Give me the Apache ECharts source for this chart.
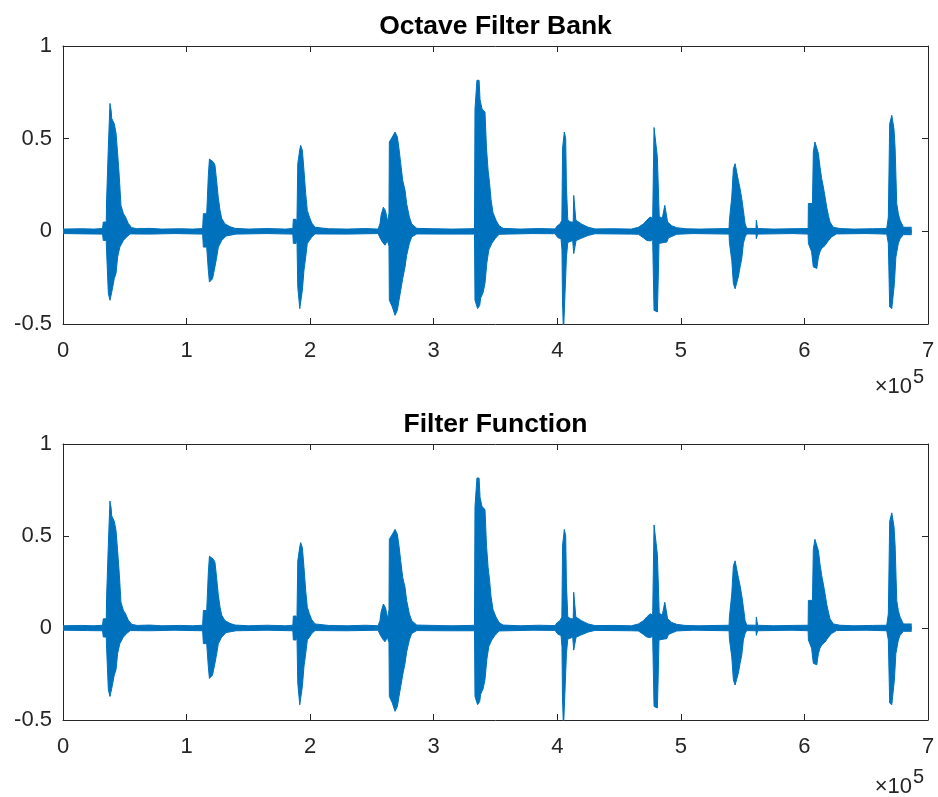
<!DOCTYPE html>
<html>
<head>
<meta charset="utf-8">
<script src="https://cdn.jsdelivr.net/npm/echarts/dist/echarts.min.js"></script>
<style>
html,body{margin:0;padding:0;background:#fff;}
#chart{width:938px;height:797px;}
</style>
</head>
<body>
<div id="chart"></div>
<script>
// Axis settings (samples, amplitude)
var xTicks = [0, 100000, 200000, 300000, 400000, 500000, 600000, 700000];
var yTicks = [-0.5, 0, 0.5, 1];
var titles = ['Octave Filter Bank', 'Filter Function'];

// Upper envelope of the waveform: [sample, amplitude]
var upperEnv = [
[0,0.012],[15000,0.014],[25000,0.012],[32000,0.015],
[32600,0.05],[35000,0.05],[35300,0.17],[36500,0.17],[36700,0.455],[37600,0.455],[38000,0.69],[39000,0.65],[39400,0.61],[41500,0.58],[42900,0.53],[44200,0.42],[45600,0.29],[46900,0.14],[48800,0.097],[50700,0.076],[52800,0.043],[55600,0.02],
[60000,0.014],[70000,0.016],[80000,0.012],[95000,0.014],[105000,0.012],[113000,0.015],
[113600,0.095],[116300,0.095],[117600,0.30],[118500,0.39],[120000,0.38],[121700,0.374],[123000,0.356],[124400,0.266],[125700,0.178],[127100,0.113],[128400,0.07],[131100,0.04],[135200,0.025],[139200,0.016],
[150000,0.012],[165000,0.015],[180000,0.012],
[186000,0.015],[186400,0.065],[188600,0.065],[189300,0.04],[190000,0.365],[191600,0.44],[192300,0.464],[193700,0.437],[195000,0.33],[196400,0.203],[197700,0.113],[199400,0.077],[201300,0.045],[204000,0.022],
[215000,0.014],[230000,0.012],[245000,0.015],[255000,0.012],
[256500,0.04],[257500,0.09],[259300,0.13],[261000,0.11],[262800,0.05],[263800,0.1],[264100,0.482],[266500,0.509],[268700,0.536],[270600,0.509],[271900,0.446],[273300,0.365],[274900,0.275],[276800,0.221],[278100,0.149],[280300,0.077],[282200,0.04],[286300,0.016],
[300000,0.014],[315000,0.012],[330000,0.014],
[333000,0.015],[333400,0.66],[335000,0.815],[336700,0.815],[337500,0.71],[339100,0.66],[340700,0.65],[341500,0.644],[342700,0.45],[344000,0.33],[345200,0.26],[346400,0.17],[348000,0.10],[350400,0.06],[352900,0.03],[356100,0.016],
[370000,0.012],[385000,0.015],
[398200,0.013],[400000,0.03],[402200,0.04],[403700,0.06],[404300,0.45],[405700,0.536],[406800,0.50],[407400,0.24],[408500,0.06],[411000,0.05],[412900,0.05],[413300,0.194],[414400,0.194],[415000,0.06],[416300,0.055],[419500,0.04],[425000,0.022],[430600,0.013],
[445000,0.014],[460000,0.012],
[465600,0.022],[469700,0.04],[472400,0.06],[475100,0.077],[477200,0.07],[478300,0.56],[479600,0.56],[481000,0.40],[481800,0.40],[482500,0.08],[485000,0.07],[486600,0.07],[487000,0.14],[488600,0.14],[489300,0.05],[492600,0.03],[496600,0.02],[503400,0.014],
[515000,0.012],[530000,0.014],
[539000,0.015],[539300,0.06],[541200,0.185],[542500,0.338],[543900,0.365],[545200,0.365],[546500,0.275],[547900,0.23],[549300,0.176],[550600,0.113],[552000,0.04],[553300,0.016],
[560800,0.015],[561100,0.06],[561800,0.06],[562100,0.015],[575000,0.012],[590000,0.014],[603000,0.015],
[603200,0.15],[606500,0.15],[607200,0.428],[608500,0.482],[610000,0.482],[611300,0.42],[612600,0.347],[614000,0.284],[615300,0.239],[616700,0.185],[618000,0.131],[619400,0.086],[620700,0.05],[623400,0.022],[628800,0.015],
[640000,0.012],[655000,0.014],[666600,0.015],
[667900,0.077],[669000,0.58],[670700,0.626],[671500,0.626],[672500,0.55],[673400,0.446],[674700,0.149],[676000,0.095],[677400,0.06],[680100,0.022],[686800,0.022]
];

// Lower envelope of the waveform: [sample, amplitude]
var lowerEnv = [
[0,-0.012],[20000,-0.014],[32000,-0.015],
[32600,-0.049],[35000,-0.049],[35300,-0.11],[36500,-0.11],[36700,-0.335],[37600,-0.335],[38000,-0.372],[39400,-0.33],[41500,-0.255],[42900,-0.227],[44200,-0.138],[46000,-0.085],[48800,-0.05],[51500,-0.03],[54500,-0.014],
[70000,-0.015],[90000,-0.012],[113000,-0.015],
[113600,-0.085],[116300,-0.085],[117600,-0.21],[118500,-0.274],[121000,-0.256],[123000,-0.19],[124400,-0.139],[125700,-0.085],[128400,-0.05],[132000,-0.025],[140000,-0.015],
[165000,-0.012],[186000,-0.015],
[186400,-0.065],[188600,-0.065],[189300,-0.03],[190000,-0.30],[191600,-0.417],[192300,-0.417],[193700,-0.318],[195000,-0.21],[196400,-0.139],[197700,-0.065],[199400,-0.05],[201300,-0.03],[204000,-0.014],
[230000,-0.015],[255000,-0.012],
[256500,-0.035],[258700,-0.06],[260600,-0.075],[262500,-0.05],[263800,-0.08],[264100,-0.372],[266500,-0.408],[268700,-0.453],[270600,-0.426],[271900,-0.372],[273300,-0.318],[274900,-0.255],[276800,-0.192],[278100,-0.13],[280300,-0.065],[282200,-0.03],[286300,-0.014],
[310000,-0.015],[333000,-0.015],
[333400,-0.372],[335500,-0.417],[337200,-0.40],[338000,-0.36],[340000,-0.33],[341500,-0.28],[343000,-0.17],[344600,-0.10],[347000,-0.065],[349600,-0.04],[352900,-0.016],
[380000,-0.012],[398200,-0.013],
[400600,-0.035],[403000,-0.04],[403800,-0.10],[404200,-0.372],[405000,-0.55],[406300,-0.55],[407400,-0.14],[408500,-0.06],[412500,-0.05],[413300,-0.12],[414400,-0.12],[415200,-0.05],[418500,-0.04],[425000,-0.022],[430600,-0.013],
[460000,-0.015],[465600,-0.016],
[469700,-0.035],[472400,-0.049],[475100,-0.052],[477200,-0.045],[478300,-0.426],[479600,-0.435],[481000,-0.435],[481600,-0.28],[482300,-0.065],[486600,-0.06],[487000,-0.058],[488600,-0.058],[490000,-0.035],[496600,-0.016],
[510000,-0.012],[539000,-0.015],
[539300,-0.06],[541200,-0.157],[542500,-0.282],[543900,-0.31],[545200,-0.31],[546500,-0.246],[547900,-0.193],[549300,-0.147],[550600,-0.065],[552000,-0.03],[553300,-0.014],
[560800,-0.015],[561100,-0.04],[561800,-0.04],[562100,-0.015],[590000,-0.012],[603000,-0.015],
[603200,-0.065],[605800,-0.11],[607200,-0.192],[608500,-0.20],[610000,-0.20],[611300,-0.139],[612600,-0.11],[614000,-0.092],[616700,-0.076],[619400,-0.05],[622000,-0.03],[626000,-0.014],
[650000,-0.012],[666600,-0.015],
[667900,-0.065],[669000,-0.408],[670700,-0.417],[671500,-0.417],[672800,-0.282],[674000,-0.139],[676000,-0.065],[677400,-0.04],[680100,-0.018],[686800,-0.018]
];

var BLUE = '#0072BD';
var AXC = '#262626';
var FONT = '"Liberation Sans", Arial, Helvetica, sans-serif';
var grids = [
  {left: 63, top: 46, width: 865, height: 278},
  {left: 63, top: 444, width: 865, height: 276}
];

function xAx(g, pos, labels) {
  return {
    type: 'value', gridIndex: g, position: pos,
    min: xTicks[0], max: xTicks[xTicks.length - 1], interval: xTicks[1] - xTicks[0],
    axisLine: {show: true, onZero: false, lineStyle: {color: AXC, width: 1}},
    axisTick: {show: true, inside: true, length: 6, lineStyle: {color: AXC, width: 1}},
    splitLine: {show: false},
    axisLabel: {show: labels, color: AXC, fontSize: 22, fontFamily: FONT, margin: 16,
      formatter: function (v) { return String(v / 100000); }}
  };
}
function yAx(g, pos, labels) {
  return {
    type: 'value', gridIndex: g, position: pos,
    min: yTicks[0], max: yTicks[yTicks.length - 1], interval: yTicks[1] - yTicks[0],
    axisLine: {show: true, onZero: false, lineStyle: {color: AXC, width: 1}},
    axisTick: {show: true, inside: true, length: 6, lineStyle: {color: AXC, width: 1}},
    splitLine: {show: false},
    axisLabel: {show: labels, color: AXC, fontSize: 22, fontFamily: FONT, margin: 11}
  };
}
function wave(data, xi, yi, org) {
  return {
    type: 'line', xAxisIndex: xi, yAxisIndex: yi, data: data,
    showSymbol: false, symbol: 'none', silent: true, clip: true,
    lineStyle: {color: BLUE, width: 1},
    areaStyle: {color: BLUE, opacity: 1, origin: org},
    animation: false
  };
}

var chart = echarts.init(document.getElementById('chart'), null, {renderer: 'canvas'});
chart.setOption({
  backgroundColor: '#fff',
  animation: false,
  grid: grids,
  xAxis: [xAx(0, 'bottom', true), xAx(0, 'top', false), xAx(1, 'bottom', true), xAx(1, 'top', false)],
  yAxis: [yAx(0, 'left', true), yAx(0, 'right', false), yAx(1, 'left', true), yAx(1, 'right', false)],
  series: [wave(upperEnv, 0, 0, -0.01), wave(lowerEnv, 0, 0, 0.01), wave(upperEnv, 2, 2, -0.01), wave(lowerEnv, 2, 2, 0.01)],
  graphic: [
    {type: 'text', x: 495.5, y: 27, style: {text: titles[0], fill: '#000', font: 'bold 26.5px ' + FONT, align: 'center', verticalAlign: 'middle'}},
    {type: 'text', x: 495.5, y: 425, style: {text: titles[1], fill: '#000', font: 'bold 26.5px ' + FONT, align: 'center', verticalAlign: 'middle'}},
    {type: 'text', x: 912, y: 387, style: {text: '\u00d710', fill: AXC, font: '22px ' + FONT, align: 'right', verticalAlign: 'middle'}},
    {type: 'text', x: 913, y: 377, style: {text: '5', fill: AXC, font: '20px ' + FONT, align: 'left', verticalAlign: 'middle'}},
    {type: 'text', x: 912, y: 787, style: {text: '\u00d710', fill: AXC, font: '22px ' + FONT, align: 'right', verticalAlign: 'middle'}},
    {type: 'text', x: 913, y: 777, style: {text: '5', fill: AXC, font: '20px ' + FONT, align: 'left', verticalAlign: 'middle'}}
  ]
});
</script>
</body>
</html>
